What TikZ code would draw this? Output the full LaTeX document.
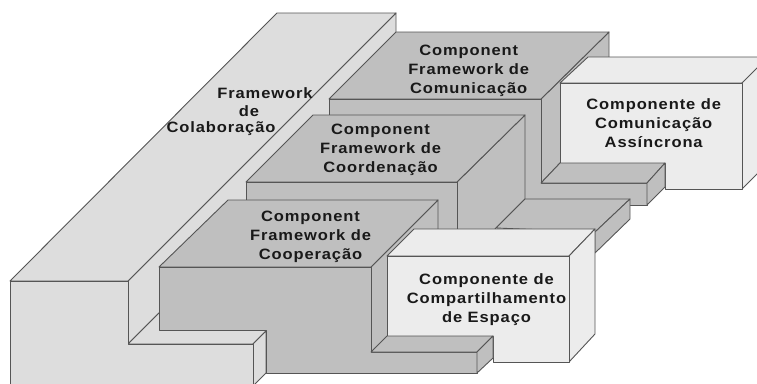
\documentclass[tikz,border=0pt]{standalone}
\usepackage{fontspec}
\setmainfont[FakeStretch=1.1,LetterSpace=6,BoldFont={Liberation Sans Bold}]{Liberation Sans}
\definecolor{framegray}{HTML}{DDDDDD}
\definecolor{blockgray}{HTML}{BFBFBF}
\definecolor{boxgray}{HTML}{ECECEC}
\definecolor{edgegray}{HTML}{555555}
\tikzset{
    frameface/.style={fill=framegray,draw=edgegray,line width=0.9pt,line join=round},
    blockface/.style={fill=blockgray,draw=edgegray,line width=0.9pt,line join=round},
    boxface/.style={fill=boxgray,draw=edgegray,line width=0.9pt,line join=round},
    lbl/.style={align=center,inner sep=0pt,font=\fontsize{15}{19}\selectfont\bfseries,text=black!90}
}
\begin{document}
\begin{tikzpicture}[x=1pt,y=-1pt]
    \useasboundingbox (0,0) rectangle (757,383);
    \clip (0,0) rectangle (757,383);
    % framework de colaboracao
    \draw[frameface] (128,281) -- (396,13) -- (396,200) -- (159,313) -- (128,344) -- cycle;
    \draw[frameface] (10,281) -- (277,13) -- (396,13) -- (128,281) -- cycle;
    \draw[frameface] (128,344) -- (159,313) -- (266,313) -- (266,331) -- (253,344) -- cycle;
    \draw[frameface] (253,344) -- (266,331) -- (266,373) -- (253,386) -- cycle;
    \draw[frameface] (10,281) -- (128,281) -- (128,344) -- (253,344) -- (253,390) -- (10,390) -- cycle;
    % comunicacao
    \draw[blockface] (541,99) -- (609,32) -- (609,100) -- (560,163) -- (541,183) -- cycle;
    \draw[blockface] (329,99) -- (396,32) -- (609,32) -- (541,99) -- cycle;
    \draw[blockface] (329,99) -- (541,99) -- (541,183) -- (647,183) -- (647,205) -- (329,205) -- cycle;
    % assincrona
    \draw[boxface] (560,83) -- (588,57) -- (775,57) -- (742,83) -- cycle;
    \draw[boxface] (742,83) -- (775,50) -- (775,156) -- (742,189) -- cycle;
    \draw[boxface] (560,83) -- (742,83) -- (742,189) -- (665,189) -- (665,163) -- (560,163) -- cycle;
    \draw[blockface] (541,183) -- (560,163) -- (665,163) -- (647,183) -- cycle;
    \draw[blockface] (647,183) -- (665,163) -- (665,187) -- (647,205) -- cycle;
    % coordenacao
    \draw[blockface] (457,182) -- (525,115) -- (525,199) -- (496,228) -- (457,270) -- cycle;
    \draw[blockface] (246,182) -- (313,115) -- (525,115) -- (457,182) -- cycle;
    \draw[blockface] (246,182) -- (457,182) -- (457,270) -- (246,270) -- cycle;
    \draw[blockface] (496,228) -- (525,199) -- (630,199) -- (595,232) -- cycle;
    \draw[blockface] (595,232) -- (630,199) -- (630,219) -- (595,253) -- cycle;
    % cooperacao
    \draw[blockface] (371,267) -- (438,200) -- (438,290) -- (371,352) -- cycle;
    \draw[blockface] (159,267) -- (228,200) -- (438,200) -- (371,267) -- cycle;
    \draw[blockface] (159,267) -- (371,267) -- (371,352) -- (477,352) -- (477,373) -- (266,373) -- (266,330) -- (159,330) -- cycle;
    % compartilhamento
    \draw[boxface] (387,256) -- (414,229) -- (595,229) -- (569,256) -- cycle;
    \draw[boxface] (569,256) -- (595,229) -- (595,334) -- (569,362) -- cycle;
    \draw[boxface] (387,256) -- (569,256) -- (569,362) -- (493,362) -- (493,336) -- (387,336) -- cycle;
    \draw[blockface] (371,352) -- (387,336) -- (493,336) -- (477,352) -- cycle;
    \draw[blockface] (477,352) -- (493,336) -- (493,358) -- (477,373) -- cycle;
    % textos
    \node[lbl] (fw1) at (265,93) {Framework};
    \node[lbl] (fw2) at (249,111) {de};
    \node[lbl] (fw3) at (221,129) {Colaboração};
    \node[lbl] (Com) at (468.7,71) {Component\\Framework de\\Comunicação};
    \node[lbl] (Coo) at (380.5,150) {Component\\Framework de\\Coordenação};
    \node[lbl] (Cop) at (310.5,237) {Component\\Framework de\\Cooperação};
    \node[lbl] (Ass) at (653.7,123) {Componente de\\Comunicação\\Assíncrona};
    \node[lbl] (Esp) at (486.5,299.7) {Componente de\\Compartilhamento\\de Espaço};
\end{tikzpicture}
\end{document}
